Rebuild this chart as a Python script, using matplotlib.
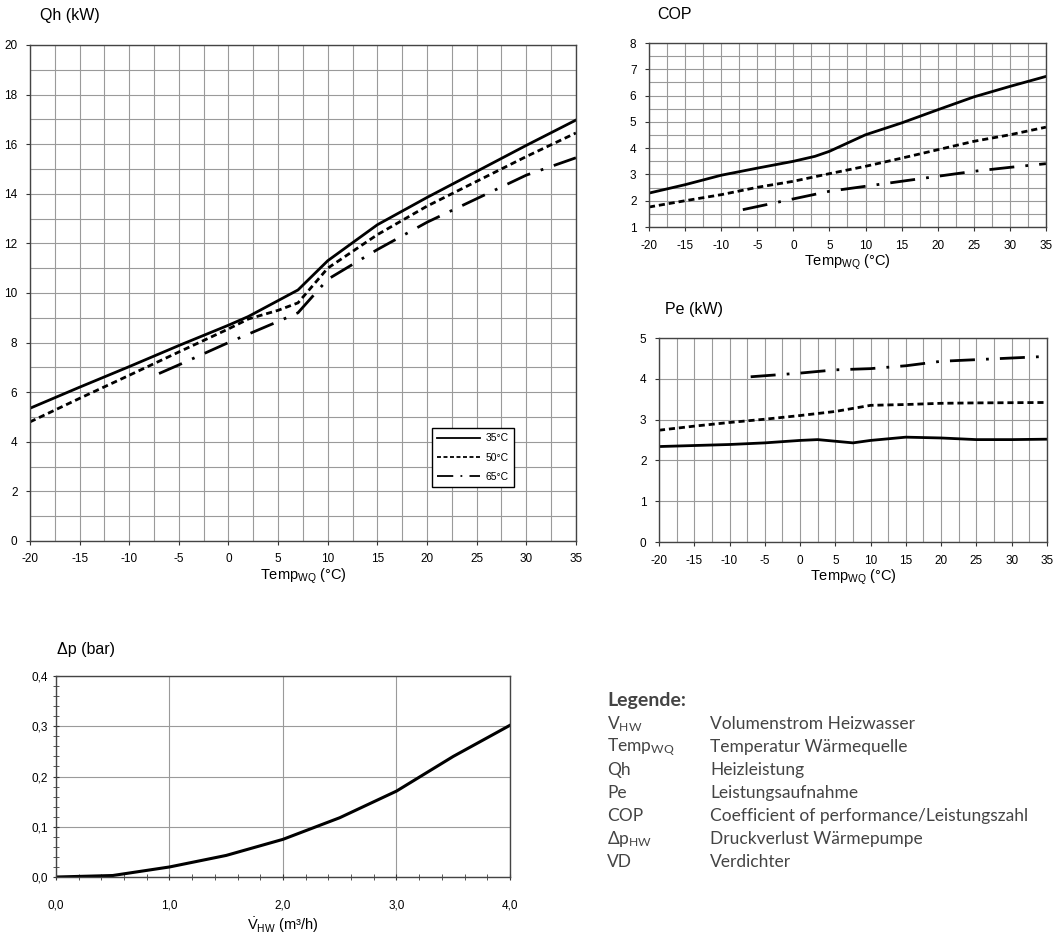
import numpy as np
import matplotlib
matplotlib.use("Agg")
import matplotlib.pyplot as plt
from matplotlib.ticker import MultipleLocator, FuncFormatter
from matplotlib.lines import Line2D

plt.rcParams["font.family"] = ["Liberation Sans", "DejaVu Sans"]
plt.rcParams["mathtext.default"] = "regular"
plt.rcParams["axes.unicode_minus"] = False

# ── Data ──────────────────────────────────────────────────────────────
series_names = ["35°C", "50°C", "65°C"]

qh_35_t = [-20, -15, -10, -5, 0, 2, 7, 10, 15, 20, 25, 30, 35]
qh_35 = [5.35, 6.2, 7.03, 7.88, 8.7, 9.05, 10.12, 11.3, 12.75, 13.85, 14.9, 15.95, 16.97]
qh_50_t = [-20, -15, -10, -5, 0, 2, 5, 7, 10, 15, 20, 25, 30, 35]
qh_50 = [4.8, 5.75, 6.68, 7.62, 8.55, 8.95, 9.3, 9.6, 11.0, 12.35, 13.5, 14.5, 15.5, 16.45]
qh_65_t = [-7, -5, 0, 5, 7, 10, 15, 20, 25, 30, 35]
qh_65 = [6.75, 7.1, 8.0, 8.85, 9.2, 10.55, 11.75, 12.85, 13.8, 14.75, 15.45]

cop_35_t = [-20, -15, -10, -5, 0, 3, 5, 10, 15, 20, 25, 30, 35]
cop_35 = [2.29, 2.61, 2.97, 3.24, 3.5, 3.69, 3.88, 4.51, 4.96, 5.46, 5.95, 6.35, 6.73]
cop_50_t = [-20, -15, -10, -5, 0, 5, 10, 15, 20, 25, 30, 35]
cop_50 = [1.76, 2.0, 2.23, 2.51, 2.74, 3.03, 3.31, 3.62, 3.94, 4.26, 4.51, 4.8]
cop_65_t = [-7, 0, 5, 10, 15, 20, 25, 30, 35]
cop_65 = [1.66, 2.07, 2.36, 2.55, 2.74, 2.93, 3.12, 3.27, 3.41]

pe_35_t = [-20, -10, -5, 0, 2.5, 7.5, 10, 15, 20, 25, 30, 35]
pe_35 = [2.34, 2.39, 2.43, 2.49, 2.51, 2.43, 2.49, 2.57, 2.55, 2.51, 2.51, 2.52]
pe_50_t = [-20, -15, -10, -5, 0, 5, 10, 15, 20, 25, 35]
pe_50 = [2.74, 2.84, 2.93, 3.01, 3.1, 3.2, 3.35, 3.37, 3.4, 3.41, 3.42]
pe_65_t = [-7, 0, 5, 10, 15, 20, 25, 30, 35]
pe_65 = [4.05, 4.14, 4.22, 4.25, 4.32, 4.43, 4.47, 4.51, 4.55]

dp_flow = [0.0, 0.5, 1.0, 1.5, 2.0, 2.5, 3.0, 3.5, 4.0]
dp_bar = [0.0, 0.003, 0.02, 0.043, 0.075, 0.118, 0.171, 0.24, 0.302]

legend_abbr = [r"V$_{HW}$", r"Temp$_{WQ}$", "Qh", "Pe", "COP", r"Δp$_{HW}$", "VD"]
legend_desc = ["Volumenstrom Heizwasser", "Temperatur Wärmequelle", "Heizleistung",
               "Leistungsaufnahme", "Coefficient of performance/Leistungszahl",
               "Druckverlust Wärmepumpe", "Verdichter"]

# ── Styles ─────────────────────────────────────────────────────────────
styles = [dict(linestyle="-"),
          dict(linestyle=(0, (2.2, 1.4))),
          dict(linestyle=(0, (9, 4, 1, 4)))]
LW = 2.0
GRID = "#9a9a9a"
TEMP_LABEL = r"Temp$_{WQ}$ (°C)"


def style_temp_axis(ax, ymin, ymax, ymajor, yminor):
    ax.set_xlim(-20, 35)
    ax.set_ylim(ymin, ymax)
    ax.xaxis.set_major_locator(MultipleLocator(5))
    ax.xaxis.set_minor_locator(MultipleLocator(2.5))
    ax.yaxis.set_major_locator(MultipleLocator(ymajor))
    ax.yaxis.set_minor_locator(MultipleLocator(yminor))
    ax.grid(True, which="both", color=GRID, linewidth=0.8)
    ax.set_axisbelow(True)
    ax.tick_params(which="major", length=3, width=0.8, labelsize=8.5, pad=6, color="#333")
    ax.tick_params(which="minor", length=0)
    for s in ax.spines.values():
        s.set_color("#444")
        s.set_linewidth(1.0)
    ax.set_xlabel(TEMP_LABEL, fontsize=10.5, labelpad=1)


fig = plt.figure(figsize=(10.62, 9.40), dpi=100)

# ── Qh ────────────────────────────────────────────────────────────────
ax1 = fig.add_axes([0.0282, 0.4245, 0.5141, 0.5277])
for (t, v), st, name in zip([(qh_35_t, qh_35), (qh_50_t, qh_50), (qh_65_t, qh_65)],
                            styles, series_names):
    ax1.plot(t, v, color="black", linewidth=LW, label=name, **st)
style_temp_axis(ax1, 0, 20, 2, 1)
leg_handles = [Line2D([0], [0], color="black", linewidth=1.3, **st) for st in styles]
leg = ax1.legend(leg_handles, series_names, loc="upper left",
                 bbox_to_anchor=(0.726, 0.238), fontsize=7.5, frameon=True,
                 fancybox=False, edgecolor="black", framealpha=1,
                 handlelength=4.2, labelspacing=0.9, borderpad=0.5,
                 handletextpad=0.5)
leg.get_frame().set_linewidth(1.0)
fig.text(0.0377, 0.983, "Qh (kW)", fontsize=11.5, va="center", ha="left")

# ── COP ───────────────────────────────────────────────────────────────
ax2 = fig.add_axes([0.6111, 0.7585, 0.3738, 0.1957])
for (t, v), st in zip([(cop_35_t, cop_35), (cop_50_t, cop_50), (cop_65_t, cop_65)], styles):
    ax2.plot(t, v, color="black", linewidth=LW, **st)
style_temp_axis(ax2, 1, 8, 1, 0.5)
fig.text(0.6186, 0.985, "COP", fontsize=11.5, va="center", ha="left")

# ── Pe ────────────────────────────────────────────────────────────────
ax3 = fig.add_axes([0.6205, 0.4234, 0.3653, 0.2170])
for (t, v), st in zip([(pe_35_t, pe_35), (pe_50_t, pe_50), (pe_65_t, pe_65)], styles):
    ax3.plot(t, v, color="black", linewidth=LW, **st)
style_temp_axis(ax3, 0, 5, 1, 1)
fig.text(0.6262, 0.671, "Pe (kW)", fontsize=11.5, va="center", ha="left")

# ── Δp ────────────────────────────────────────────────────────────────
ax4 = fig.add_axes([0.0527, 0.0670, 0.4275, 0.2138])
ax4.plot(dp_flow, dp_bar, color="black", linewidth=2.2)
ax4.set_xlim(0, 4)
ax4.set_ylim(0, 0.4)
ax4.xaxis.set_major_locator(MultipleLocator(1))
ax4.xaxis.set_minor_locator(MultipleLocator(0.2))
ax4.yaxis.set_major_locator(MultipleLocator(0.1))
ax4.yaxis.set_minor_locator(MultipleLocator(0.02))
comma = FuncFormatter(lambda v, p: f"{v:.1f}".replace(".", ","))
ax4.xaxis.set_major_formatter(comma)
ax4.yaxis.set_major_formatter(comma)
ax4.grid(True, which="major", color=GRID, linewidth=0.8)
ax4.set_axisbelow(True)
ax4.tick_params(which="major", direction="inout", length=5, width=0.8,
                labelsize=8.5, color="#333")
ax4.tick_params(axis="x", which="major", pad=14)
ax4.tick_params(which="minor", direction="inout", length=4, width=0.7, color="#555")
for s in ax4.spines.values():
    s.set_color("#444")
    s.set_linewidth(1.0)
ax4.set_xlabel(r"$\dot{V}_{HW}$ (m³/h)", fontsize=10.5, labelpad=2)
fig.text(0.0537, 0.309, "Δp (bar)", fontsize=11.5, va="center", ha="left")

# ── Text legend ───────────────────────────────────────────────────────
lg_font = ["Lato", "DejaVu Sans"]
fig.text(0.5715, 0.255, "Legende:", fontsize=14, fontweight="bold",
         color="#444", family=lg_font, va="center")
y0 = 0.2300
dy = 0.0245
for i, (a, d) in enumerate(zip(legend_abbr, legend_desc)):
    y = y0 - i * dy
    fig.text(0.5715, y, a, fontsize=12.5, color="#444", family=lg_font, va="center")
    fig.text(0.6685, y, d, fontsize=12.5, color="#444", family=lg_font, va="center")

fig.savefig("out.png", dpi=100)
